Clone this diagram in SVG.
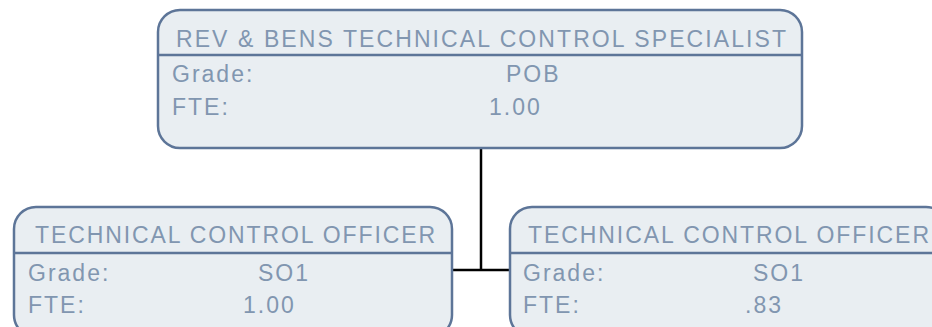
<svg xmlns="http://www.w3.org/2000/svg" width="932" height="327" viewBox="0 0 932 327">
<style>
.box{fill:#e9eef2;stroke:#5d7598;stroke-width:2.5}
.div{stroke:#5d7598;stroke-width:2.5}
.t{font-family:"Liberation Sans",Arial,sans-serif;font-size:23px;fill:#8196b0;letter-spacing:2px}
.h{letter-spacing:0}
.conn{stroke:#000;stroke-width:2.5;fill:none}
</style>
<rect width="932" height="327" fill="#fff"/>
<g id="connectors">
<line class="conn" x1="481" y1="148" x2="481" y2="270"/>
<line class="conn" x1="452" y1="270" x2="510" y2="270"/>
</g>
<g id="node-top">
<rect class="box" x="158" y="10" width="644" height="138" rx="22"/>
<line class="div" x1="158" y1="55" x2="802" y2="55"/>
<text class="t h" x="176" y="47" textLength="610" lengthAdjust="spacing">REV &amp; BENS TECHNICAL CONTROL SPECIALIST</text>
<text class="t" x="172" y="82">Grade:</text>
<text class="t" x="506" y="82">POB</text>
<text class="t" x="172" y="115">FTE:</text>
<text class="t" x="489" y="115">1.00</text>
</g>
<g id="node-left">
<rect class="box" x="14" y="207" width="438" height="130" rx="22"/>
<line class="div" x1="14" y1="253" x2="452" y2="253"/>
<text class="t h" x="35" y="243" textLength="400" lengthAdjust="spacing">TECHNICAL CONTROL OFFICER</text>
<text class="t" x="28" y="281">Grade:</text>
<text class="t" x="258" y="281">SO1</text>
<text class="t" x="28" y="313">FTE:</text>
<text class="t" x="243" y="313">1.00</text>
</g>
<g id="node-right">
<rect class="box" x="510" y="207" width="438" height="130" rx="22"/>
<line class="div" x1="510" y1="253" x2="948" y2="253"/>
<text class="t h" x="528" y="243" textLength="401" lengthAdjust="spacing">TECHNICAL CONTROL OFFICER</text>
<text class="t" x="523" y="281">Grade:</text>
<text class="t" x="753" y="281">SO1</text>
<text class="t" x="523" y="313">FTE:</text>
<text class="t" x="745" y="313">.83</text>
</g>
</svg>
